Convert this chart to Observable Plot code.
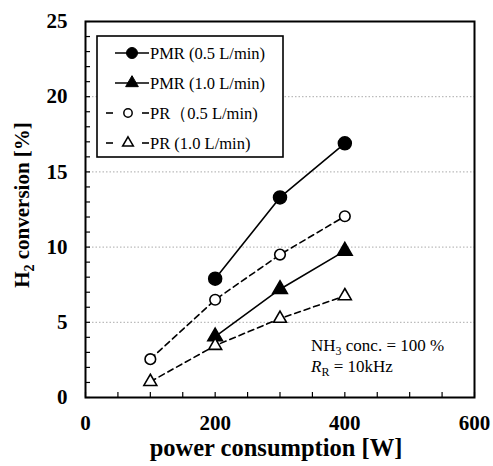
<!DOCTYPE html>
<html>
<head>
<meta charset="utf-8">
<script src="https://cdn.jsdelivr.net/npm/d3@7"></script>
<script src="https://cdn.jsdelivr.net/npm/@observablehq/plot@0.6"></script>
<style>
  html, body { margin: 0; padding: 0; background: white; }
  #chart svg { display: block; }
  #chart svg text { font-family: "Liberation Serif", "Times New Roman", serif; }
</style>
</head>
<body>
<div id="chart"></div>
<script>
// ---- data ----
const power = [100, 200, 300, 400];
const seriesNames = ["PMR (0.5 L/min)", "PMR (1.0 L/min)", "PR（0.5 L/min)", "PR (1.0 L/min)"];
const pmr05 = [null, 7.9, 13.3, 16.9];
const pmr10 = [null, 4.05, 7.2, 9.75];
const pr05 = [2.55, 6.5, 9.5, 12.05];
const pr10 = [1.05, 3.45, 5.25, 6.75];
const xTicks = [0, 200, 400, 600];
const yTicks = [0, 5, 10, 15, 20, 25];
const gridTicks = [5, 10, 15, 20];
const xMinor = d3.range(0, 601, 50);
const yMinor = d3.range(0, 26, 1);

const seriesValues = [pmr05, pmr10, pr05, pr10];
const seriesSymbol = ["circle", "triangle", "circle", "triangle"];
const seriesFilled = [true, true, false, false];
const seriesDashed = [false, false, true, true];

const rows = [];
seriesValues.forEach((vals, si) => {
  vals.forEach((v, i) => {
    if (v != null) rows.push({series: seriesNames[si], si, power: power[i], value: v});
  });
});

const serif = "'Liberation Serif', 'Times New Roman', serif";

const chart = Plot.plot({
  width: 493,
  height: 466,
  marginLeft: 85,
  marginRight: 19,
  marginTop: 21,
  marginBottom: 69,
  x: {domain: [0, 600]},
  y: {domain: [0, 25]},
  style: {fontFamily: serif, fontSize: "21px", fontWeight: "bold", color: "black", background: "white"},
  marks: [
    Plot.gridY(gridTicks, {stroke: "#aaa", strokeOpacity: 1, strokeDasharray: "1.5,2", strokeWidth: 1}),
    Plot.axisY(yMinor, {tickSize: -5, text: null, label: null, strokeWidth: 1.2}),
    Plot.axisX(xMinor, {tickSize: -5, text: null, label: null, strokeWidth: 1.2}),
    Plot.axisY(yTicks, {tickSize: 0, tickPadding: 18, label: null, fontWeight: "bold", fontSize: 21}),
    Plot.axisX(xTicks, {tickSize: 0, tickPadding: 18, label: null, fontWeight: "bold", fontSize: 21}),
    Plot.line(rows.filter(d => !seriesDashed[d.si]), {x: "power", y: "value", z: "series", stroke: "black", strokeWidth: 1.6}),
    Plot.line(rows.filter(d => seriesDashed[d.si]), {x: "power", y: "value", z: "series", stroke: "black", strokeWidth: 1.6, strokeDasharray: "6,4"}),
    Plot.dot(rows.filter(d => seriesSymbol[d.si] === "circle" && seriesFilled[d.si]), {x: "power", y: "value", symbol: "circle", r: 6.5, fill: "black", stroke: "black"}),
    Plot.dot(rows.filter(d => seriesSymbol[d.si] === "triangle" && seriesFilled[d.si]), {x: "power", y: "value", symbol: "triangle", r: 5.5, fill: "black", stroke: "black"}),
    Plot.dot(rows.filter(d => seriesSymbol[d.si] === "circle" && !seriesFilled[d.si]), {x: "power", y: "value", symbol: "circle", r: 5.3, fill: "white", stroke: "black", strokeWidth: 1.6}),
    Plot.dot(rows.filter(d => seriesSymbol[d.si] === "triangle" && !seriesFilled[d.si]), {x: "power", y: "value", symbol: "triangle", r: 4.8, fill: "white", stroke: "black", strokeWidth: 1.6}),
    Plot.frame({stroke: "black", strokeWidth: 2})
  ]
});

document.getElementById("chart").appendChild(chart);

// ---- axis titles, legend and annotation ----
const svg = d3.select(chart);
svg.selectAll("text").style("font-family", serif);

// x title
svg.append("text")
  .attr("x", 276).attr("y", 456)
  .attr("text-anchor", "middle")
  .style("font-family", serif).style("font-size", "24.5px").style("font-weight", "bold")
  .text("power consumption [W]");

// y title
const yt = svg.append("text")
  .attr("transform", "translate(29,205) rotate(-90)")
  .attr("text-anchor", "middle")
  .style("font-family", serif).style("font-size", "21px").style("font-weight", "bold");
yt.append("tspan").text("H");
yt.append("tspan").attr("dy", 5).style("font-size", "14px").text("2");
yt.append("tspan").attr("dy", -5).text(" conversion [%]");

// legend
const lg = svg.append("g").attr("text-anchor", "start");
lg.append("rect").attr("x", 97).attr("y", 36).attr("width", 186).attr("height", 121)
  .attr("fill", "white").attr("stroke", "black").attr("stroke-width", 1.6);
const rowY = [53, 83, 113, 143];
seriesNames.forEach((name, i) => {
  const y = rowY[i];
  if (!seriesDashed[i]) {
    lg.append("line").attr("x1", 115).attr("x2", 149).attr("y1", y).attr("y2", y)
      .attr("stroke", "black").attr("stroke-width", 1.6);
  } else {
    lg.append("line").attr("x1", 106).attr("x2", 113).attr("y1", y).attr("y2", y)
      .attr("stroke", "black").attr("stroke-width", 1.6);
    lg.append("line").attr("x1", 142).attr("x2", 149).attr("y1", y).attr("y2", y)
      .attr("stroke", "black").attr("stroke-width", 1.6);
  }
  const cx = seriesDashed[i] ? 128 : 132;
  const sym = d3.symbol().type(seriesSymbol[i] === "circle" ? d3.symbolCircle : d3.symbolTriangle)
    .size(seriesSymbol[i] === "circle" ? (seriesFilled[i] ? 95 : 55) : (seriesFilled[i] ? 70 : 50));
  lg.append("path").attr("d", sym()).attr("transform", `translate(${cx},${y})`)
    .attr("fill", seriesFilled[i] ? "black" : "white")
    .attr("stroke", "black").attr("stroke-width", seriesFilled[i] ? 1 : 1.5);
  lg.append("text").attr("x", 150).attr("y", y).attr("dy", "0.35em")
    .attr("text-anchor", "start")
    .style("font-family", serif).style("font-size", "16.5px").style("font-weight", "normal")
    .text(name);
});

// annotation
const an = svg.append("g").attr("text-anchor", "start").style("font-family", serif).style("font-size", "17px").style("font-weight", "normal");
const a1 = an.append("text").attr("x", 311).attr("y", 351);
a1.append("tspan").text("NH");
a1.append("tspan").attr("dy", 4).style("font-size", "12px").text("3");
a1.append("tspan").attr("dy", -4).text(" conc. = 100 %");
const a2 = an.append("text").attr("x", 311).attr("y", 372);
a2.append("tspan").style("font-style", "italic").text("R");
a2.append("tspan").attr("dy", 4).style("font-size", "12px").text("R");
a2.append("tspan").attr("dy", -4).text(" = 10kHz");
</script>
</body>
</html>
